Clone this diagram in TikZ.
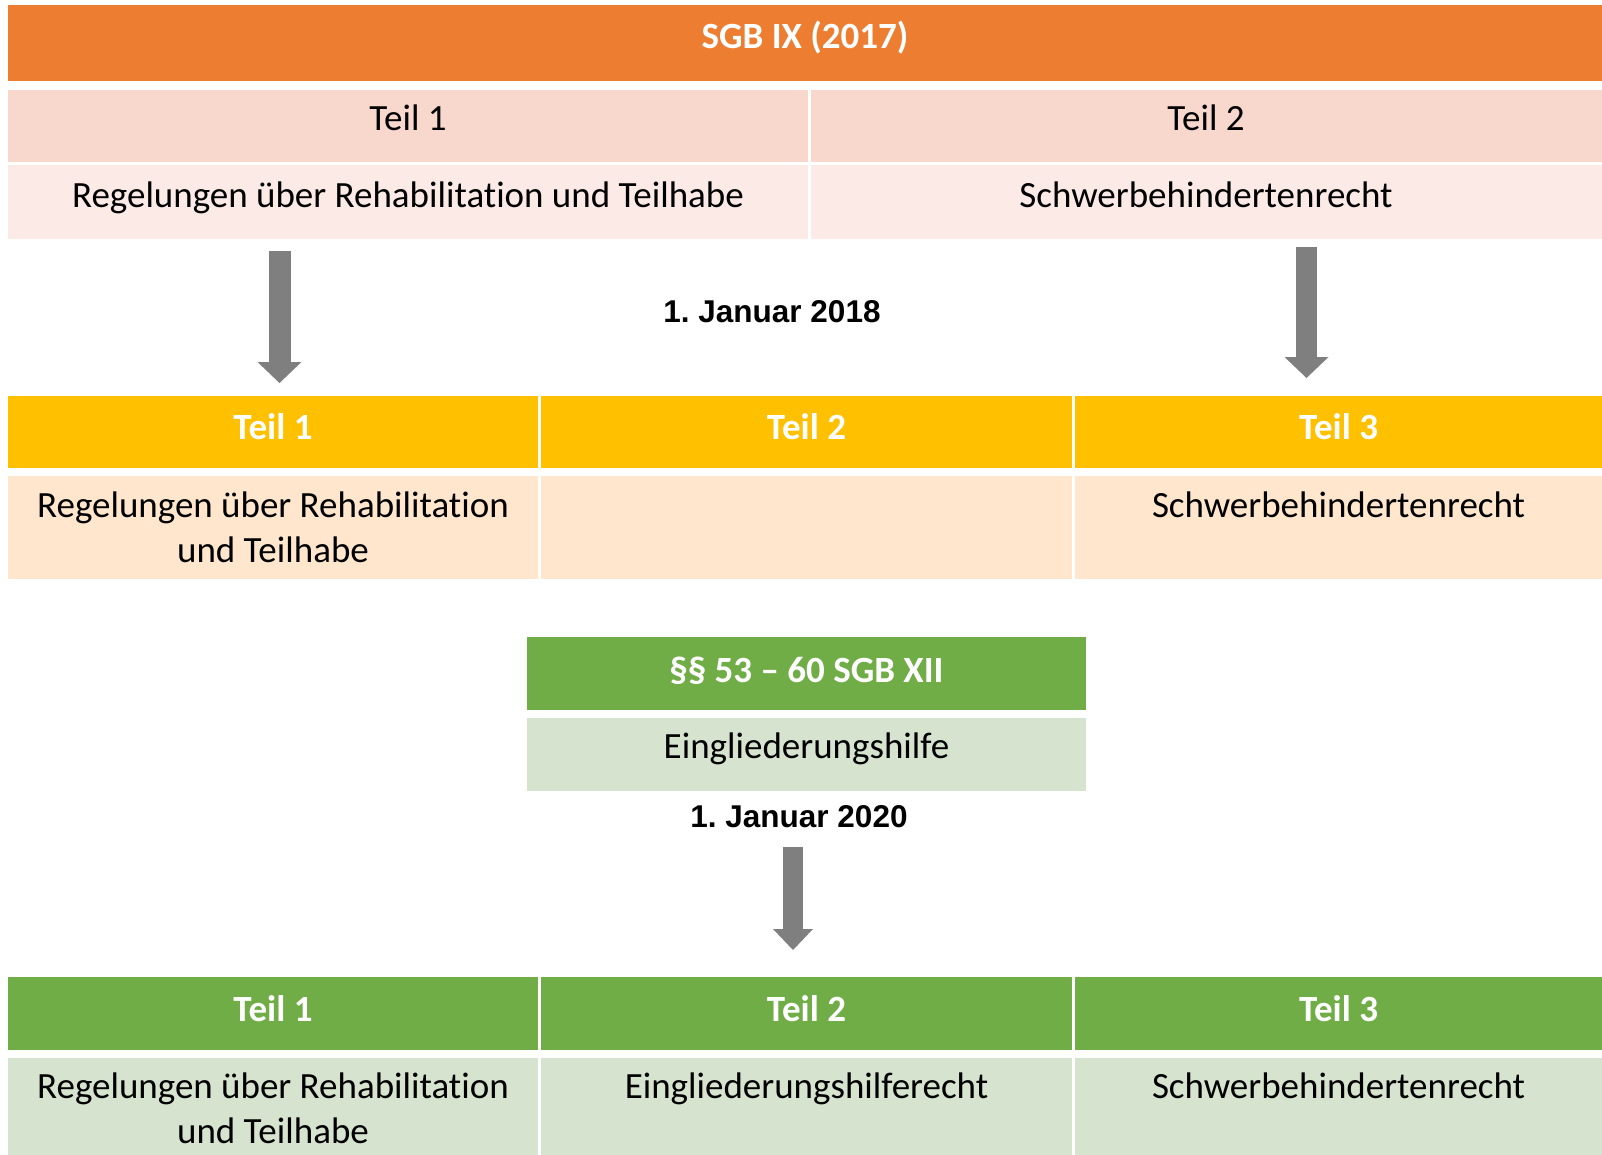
\documentclass[tikz,border=0pt]{standalone}
\usepackage{fontspec}
\setmainfont{Carlito}[Ligatures=NoCommon]
\newfontfamily\datefont{Liberation Sans}
\usetikzlibrary{arrows.meta}
\frenchspacing

\begin{document}
\begin{tikzpicture}[x=1pt, y=-1pt,
    txt/.style={anchor=base, inner sep=0pt, align=center, font=\fontsize{37}{45}\selectfont},
    head/.style={txt, text=white, font=\bfseries\fontsize{37}{45}\selectfont},
    datum/.style={anchor=base, inner sep=0pt, font=\datefont\bfseries\fontsize{31.5}{36}\selectfont},
    blockarrow/.style 2 args={draw=arrowgray, line width=#1, -{Triangle[width=#2, length=21pt, line width=0pt]}}]
    % Farben
    \definecolor{sgborange}{RGB}{237, 125, 49}
    \definecolor{rowpink}{RGB}{248, 215, 205}
    \definecolor{rowrose}{RGB}{251, 234, 230}
    \definecolor{sgbyellow}{RGB}{255, 192, 0}
    \definecolor{rowcream}{RGB}{255, 230, 204}
    \definecolor{sgbgreen}{RGB}{112, 173, 71}
    \definecolor{rowmint}{RGB}{214, 227, 206}
    \definecolor{arrowgray}{RGB}{127, 127, 127}

    \useasboundingbox (0,0) rectangle (1602,1155);

    % SGB IX (2017)
    \fill[sgborange] (8,5) rectangle (1602,81);
    \node[head] (sgb) at (805,49) {SGB IX (2017)};

    \fill[rowpink] (8,90) rectangle (808,162);
    \fill[rowpink] (811,90) rectangle (1602,162);
    \node[txt] (altA) at (408,131) {Teil 1};
    \node[txt] (altB) at (1206,131) {Teil 2};

    \fill[rowrose] (8,165) rectangle (808,239);
    \fill[rowrose] (811,165) rectangle (1602,239);
    \node[txt] (altAtext) at (408,208) {Regelungen über Rehabilitation und Teilhabe};
    \node[txt] (altBtext) at (1206,208) {Schwerbehindertenrecht};

    % 1. Januar 2018
    \coordinate (p1top) at (279.5,251);
    \coordinate (p1tip) at (279.5,383);
    \coordinate (p2top) at (1306.5,247);
    \coordinate (p2tip) at (1306.5,378);
    \draw[blockarrow={22pt}{44pt}] (p1top) -- (p1tip);
    \draw[blockarrow={21pt}{44pt}] (p2top) -- (p2tip);
    \node[datum] (jan18) at (772,323) {1. Januar 2018};

    % SGB IX (2018)
    \fill[sgbyellow] (8,396) rectangle (538,468);
    \fill[sgbyellow] (541,396) rectangle (1072,468);
    \fill[sgbyellow] (1075,396) rectangle (1602,468);
    \node[head] (neuA) at (273,439) {Teil 1};
    \node[head] (neuB) at (806.5,439) {Teil 2};
    \node[head] (neuC) at (1338.5,439) {Teil 3};

    \fill[rowcream] (8,476) rectangle (538,579);
    \fill[rowcream] (541,476) rectangle (1072,579);
    \fill[rowcream] (1075,476) rectangle (1602,579);
    \node[txt] (neuAtext) at (273,562) {Regelungen über Rehabilitation\\und Teilhabe};
    \node[txt] (neuCtext) at (1338.5,517) {Schwerbehindertenrecht};

    % SGB XII
    \fill[sgbgreen] (527,637) rectangle (1086,710);
    \node[head] (para) at (806.5,682) {§§ 53 – 60 SGB XII};
    \fill[rowmint] (527,718) rectangle (1086,791);
    \node[txt] (ehilfe) at (806.5,758) {Eingliederungshilfe};

    % 1. Januar 2020
    \node[datum] (jan20) at (799,827) {1. Januar 2020};
    \coordinate (p3top) at (793,847);
    \coordinate (p3tip) at (793,950);
    \draw[blockarrow={20pt}{40pt}] (p3top) -- (p3tip);

    % SGB IX (2020)
    \fill[sgbgreen] (8,977) rectangle (538,1050);
    \fill[sgbgreen] (541,977) rectangle (1072,1050);
    \fill[sgbgreen] (1075,977) rectangle (1602,1050);
    \node[head] (endA) at (273,1021) {Teil 1};
    \node[head] (endB) at (806.5,1021) {Teil 2};
    \node[head] (endC) at (1338.5,1021) {Teil 3};

    \fill[rowmint] (8,1058) rectangle (538,1155);
    \fill[rowmint] (541,1058) rectangle (1072,1155);
    \fill[rowmint] (1075,1058) rectangle (1602,1155);
    \node[txt] (endAtext) at (273,1143) {Regelungen über Rehabilitation\\und Teilhabe};
    \node[txt] (endBtext) at (806.5,1098) {Eingliederungshilferecht};
    \node[txt] (endCtext) at (1338.5,1098) {Schwerbehindertenrecht};
\end{tikzpicture}
\end{document}
